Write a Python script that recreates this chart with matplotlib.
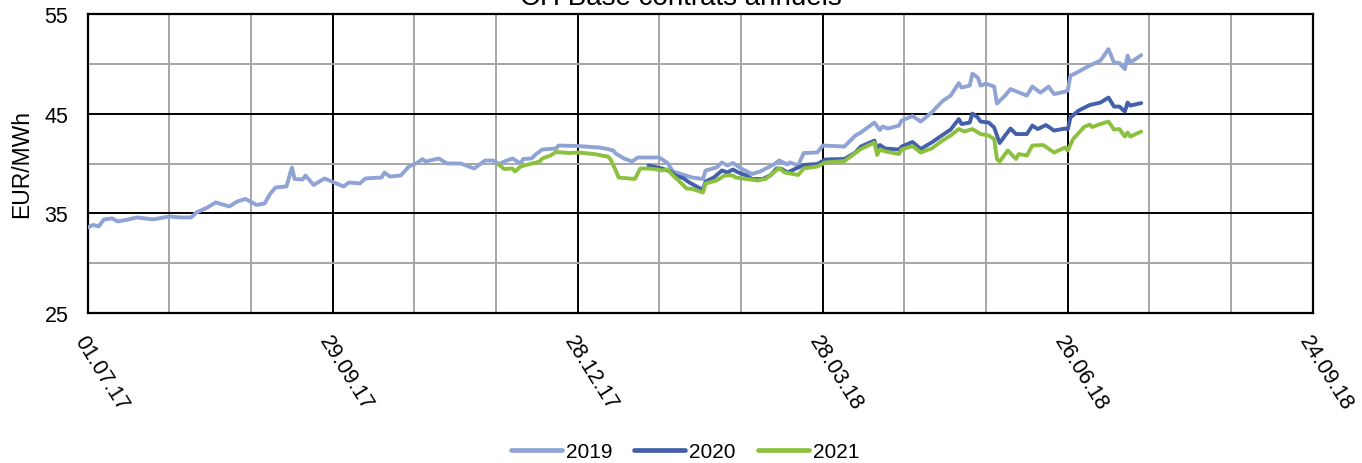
import matplotlib
matplotlib.use('Agg')
import matplotlib.pyplot as plt
import pandas as pd
from matplotlib.lines import Line2D

plt.rcParams['font.family'] = ['Liberation Sans', 'DejaVu Sans']

title = 'CH Base contrats annuels'
y_label = 'EUR/MWh'
series_names = ['2019', '2020', '2021']
series_colors = ['#8FA4D5', '#4460AA', '#8CC140']
x_start, x_end = '2017-07-01', '2018-09-24'
major_tick_dates = ['2017-07-01', '2017-09-29', '2017-12-28',
                    '2018-03-28', '2018-06-26', '2018-09-24']
major_tick_labels = ['01.07.17', '29.09.17', '28.12.17',
                     '28.03.18', '26.06.18', '24.09.18']
y_major = [25, 35, 45, 55]
y_minor = [30, 40, 50]

dates_2019 = [
    '2017-07-01', '2017-07-03', '2017-07-05', '2017-07-07', '2017-07-10', '2017-07-12',
    '2017-07-16', '2017-07-19', '2017-07-25', '2017-07-31', '2017-08-04', '2017-08-08',
    '2017-08-10', '2017-08-14', '2017-08-17', '2017-08-22', '2017-08-25', '2017-08-28',
    '2017-09-01', '2017-09-04', '2017-09-06', '2017-09-08', '2017-09-12', '2017-09-14',
    '2017-09-15', '2017-09-18', '2017-09-19', '2017-09-22', '2017-09-26', '2017-10-03',
    '2017-10-05', '2017-10-09', '2017-10-11', '2017-10-17', '2017-10-18', '2017-10-20',
    '2017-10-24', '2017-10-27', '2017-10-30', '2017-11-01', '2017-11-02', '2017-11-07',
    '2017-11-10', '2017-11-15', '2017-11-20', '2017-11-24', '2017-11-27', '2017-11-29',
    '2017-12-02', '2017-12-04', '2017-12-07', '2017-12-08', '2017-12-11', '2017-12-13',
    '2017-12-15', '2017-12-20', '2017-12-21', '2017-12-28', '2018-01-05', '2018-01-08',
    '2018-01-10', '2018-01-11', '2018-01-14', '2018-01-17', '2018-01-19', '2018-01-23',
    '2018-01-27', '2018-01-30', '2018-02-01', '2018-02-04', '2018-02-08', '2018-02-12',
    '2018-02-13', '2018-02-17', '2018-02-19', '2018-02-21', '2018-02-23', '2018-02-26',
    '2018-03-02', '2018-03-05', '2018-03-10', '2018-03-12', '2018-03-15', '2018-03-16',
    '2018-03-19', '2018-03-21', '2018-03-26', '2018-03-28', '2018-04-05', '2018-04-09',
    '2018-04-11', '2018-04-16', '2018-04-18', '2018-04-19', '2018-04-21', '2018-04-25',
    '2018-04-26', '2018-04-30', '2018-05-03', '2018-05-07', '2018-05-11', '2018-05-14',
    '2018-05-17', '2018-05-18', '2018-05-21', '2018-05-22', '2018-05-24', '2018-05-25',
    '2018-05-27', '2018-05-30', '2018-05-31', '2018-06-03', '2018-06-05', '2018-06-11',
    '2018-06-13', '2018-06-16', '2018-06-19', '2018-06-21', '2018-06-25', '2018-06-26',
    '2018-06-27', '2018-06-29', '2018-07-04', '2018-07-08', '2018-07-11', '2018-07-13',
    '2018-07-15', '2018-07-17', '2018-07-18', '2018-07-19', '2018-07-23']
values_2019 = [
    33.6, 33.85, 33.7, 34.4, 34.5, 34.2,
    34.4, 34.6, 34.4, 34.7, 34.6, 34.6,
    35.1, 35.6, 36.1, 35.7, 36.2, 36.45,
    35.85, 36.0, 36.95, 37.6, 37.7, 39.6,
    38.45, 38.4, 38.8, 37.85, 38.5, 37.7,
    38.1, 38.0, 38.5, 38.6, 39.1, 38.7,
    38.8, 39.7, 40.05, 40.45, 40.2, 40.5,
    40.0, 40.0, 39.5, 40.3, 40.3, 39.95,
    40.3, 40.5, 40.0, 40.45, 40.5, 41.0,
    41.4, 41.5, 41.8, 41.75, 41.6, 41.45,
    41.3, 41.0, 40.5, 40.2, 40.6, 40.6,
    40.6, 40.05, 39.2, 38.95, 38.6, 38.45,
    39.3, 39.6, 40.1, 39.8, 40.05, 39.5,
    38.95, 39.2, 39.9, 40.3, 39.9, 40.1,
    39.8, 41.05, 41.1, 41.8, 41.7, 42.8,
    43.1, 44.1, 43.35, 43.7, 43.5, 43.8,
    44.3, 44.75, 44.2, 45.1, 46.25, 46.8,
    48.05, 47.6, 47.8, 49.0, 48.6, 47.8,
    48.0, 47.7, 46.0, 46.8, 47.45, 46.8,
    47.7, 47.1, 47.7, 46.95, 47.2, 47.3,
    48.8, 49.05, 49.8, 50.3, 51.45, 50.1,
    50.05, 49.45, 50.8, 50.1, 50.85]

dates_2020 = [
    '2018-01-23', '2018-01-28', '2018-01-31', '2018-02-02', '2018-02-05', '2018-02-07',
    '2018-02-08', '2018-02-11', '2018-02-12', '2018-02-13', '2018-02-16', '2018-02-19',
    '2018-02-21', '2018-02-23', '2018-02-25', '2018-02-28', '2018-03-02', '2018-03-06',
    '2018-03-09', '2018-03-11', '2018-03-13', '2018-03-15', '2018-03-19', '2018-03-21',
    '2018-03-26', '2018-03-29', '2018-04-05', '2018-04-09', '2018-04-11', '2018-04-16',
    '2018-04-17', '2018-04-18', '2018-04-20', '2018-04-25', '2018-04-26', '2018-04-30',
    '2018-05-03', '2018-05-07', '2018-05-11', '2018-05-14', '2018-05-17', '2018-05-18',
    '2018-05-21', '2018-05-22', '2018-05-24', '2018-05-25', '2018-05-28', '2018-05-30',
    '2018-06-01', '2018-06-03', '2018-06-05', '2018-06-07', '2018-06-11', '2018-06-13',
    '2018-06-15', '2018-06-18', '2018-06-21', '2018-06-25', '2018-06-26', '2018-06-27',
    '2018-06-30', '2018-07-04', '2018-07-08', '2018-07-11', '2018-07-13', '2018-07-15',
    '2018-07-17', '2018-07-18', '2018-07-19', '2018-07-23']
values_2020 = [
    39.8, 39.5, 39.2, 38.8, 38.5, 38.1,
    37.95, 37.5, 37.4, 38.2, 38.6, 39.3,
    39.1, 39.4, 39.1, 38.8, 38.45, 38.45,
    38.85, 39.5, 39.45, 39.1, 39.6, 39.85,
    39.95, 40.4, 40.45, 41.1, 41.7, 42.3,
    41.4, 41.85, 41.5, 41.4, 41.7, 42.15,
    41.45, 42.1, 42.85, 43.4, 44.45, 43.95,
    44.1, 45.0, 44.6, 44.2, 44.1, 43.6,
    42.05, 42.8, 43.5, 42.95, 42.95, 43.8,
    43.45, 43.85, 43.3, 43.5, 43.4, 44.6,
    45.3, 45.85, 46.1, 46.6, 45.7, 45.7,
    45.2, 46.1, 45.8, 46.05]

dates_2021 = [
    '2017-11-29', '2017-12-01', '2017-12-04', '2017-12-05', '2017-12-07', '2017-12-09',
    '2017-12-12', '2017-12-14', '2017-12-15', '2017-12-18', '2017-12-20', '2017-12-25',
    '2017-12-28', '2018-01-03', '2018-01-08', '2018-01-09', '2018-01-11', '2018-01-12',
    '2018-01-16', '2018-01-18', '2018-01-20', '2018-01-23', '2018-01-25', '2018-01-28',
    '2018-01-30', '2018-02-01', '2018-02-03', '2018-02-06', '2018-02-08', '2018-02-12',
    '2018-02-13', '2018-02-17', '2018-02-20', '2018-02-23', '2018-02-24', '2018-02-28',
    '2018-03-04', '2018-03-07', '2018-03-10', '2018-03-12', '2018-03-14', '2018-03-19',
    '2018-03-21', '2018-03-26', '2018-03-29', '2018-04-05', '2018-04-09', '2018-04-11',
    '2018-04-16', '2018-04-17', '2018-04-18', '2018-04-20', '2018-04-25', '2018-04-26',
    '2018-04-30', '2018-05-03', '2018-05-07', '2018-05-11', '2018-05-14', '2018-05-17',
    '2018-05-19', '2018-05-22', '2018-05-25', '2018-05-28', '2018-05-30', '2018-05-31',
    '2018-06-01', '2018-06-04', '2018-06-07', '2018-06-08', '2018-06-11', '2018-06-13',
    '2018-06-17', '2018-06-21', '2018-06-25', '2018-06-26', '2018-06-28', '2018-07-02',
    '2018-07-04', '2018-07-05', '2018-07-08', '2018-07-11', '2018-07-13', '2018-07-15',
    '2018-07-17', '2018-07-18', '2018-07-19', '2018-07-23']
values_2021 = [
    39.9, 39.45, 39.5, 39.2, 39.7, 39.85,
    40.05, 40.2, 40.5, 40.8, 41.15, 41.05,
    41.1, 40.95, 40.7, 40.45, 39.3, 38.6,
    38.5, 38.45, 39.5, 39.5, 39.45, 39.3,
    39.4, 38.8, 38.3, 37.5, 37.45, 37.1,
    38.0, 38.3, 38.8, 38.8, 38.6, 38.45,
    38.3, 38.45, 39.1, 39.55, 39.1, 38.85,
    39.5, 39.7, 40.1, 40.25, 41.05, 41.45,
    42.1, 40.85, 41.4, 41.2, 40.95, 41.4,
    41.75, 41.1, 41.5, 42.3, 42.8, 43.45,
    43.2, 43.45, 42.95, 42.8, 42.45, 40.45,
    40.2, 41.3, 40.45, 40.95, 40.8, 41.8,
    41.85, 41.1, 41.6, 41.3, 42.45, 43.65,
    43.9, 43.65, 43.95, 44.2, 43.4, 43.45,
    42.7, 43.1, 42.7, 43.2]

W, H = 1362, 464
fig = plt.figure(figsize=(W / 100, H / 100), dpi=100)
left, right, top, bottom = 87.7, 1312.7, 14.7, 314.3
ax = fig.add_axes([left / W, 1 - bottom / H, (right - left) / W, (bottom - top) / H])

all_dates = [dates_2019, dates_2020, dates_2021]
all_values = [values_2019, values_2020, values_2021]
handles = []
for name, color, d, v in zip(series_names, series_colors, all_dates, all_values):
    ax.plot(pd.to_datetime(d), v, color=color, lw=2.8, solid_joinstyle='round',
            solid_capstyle='round', label=name, zorder=3)
    handles.append(Line2D([0], [0], color=color, lw=3.4, solid_capstyle='round'))

ax.set_xlim(pd.Timestamp(x_start), pd.Timestamp(x_end))
ax.set_ylim(y_major[0], y_major[-1])

ax.set_xticks(pd.to_datetime(major_tick_dates))
ax.set_xticks(pd.date_range(x_start, x_end, freq='30D'), minor=True)
ax.set_xticklabels(major_tick_labels, rotation=-58, ha='left', va='top',
                   rotation_mode='anchor', fontsize=15.5)
ax.set_yticks(y_major)
ax.set_yticks(y_minor, minor=True)
ax.set_yticklabels([str(t) for t in y_major], fontsize=15.5)

ax.tick_params(which='both', length=0)
ax.tick_params(axis='x', which='major', pad=13)
ax.tick_params(axis='y', which='major', pad=14)

ax.set_axisbelow(True)
ax.grid(which='minor', color='#A6A6A6', lw=1.4)
ax.grid(which='major', color='black', lw=1.4)
for s in ax.spines.values():
    s.set_color('black')
    s.set_linewidth(1.6)

ax.set_ylabel(y_label, fontsize=16.5)
ax.yaxis.set_label_coords(-(left - 33) / (right - left), 0.5)

fig.text(0.5, 1 - 5 / H, title, ha='center', va='baseline', fontsize=20)

fig.legend(handles, series_names, loc='center', bbox_to_anchor=(685 / W, 1 - 453 / H),
           ncol=3, frameon=False, fontsize=15, handlelength=2.45,
           handletextpad=0.2, columnspacing=1.05)

fig.savefig('out.png', dpi=100)
